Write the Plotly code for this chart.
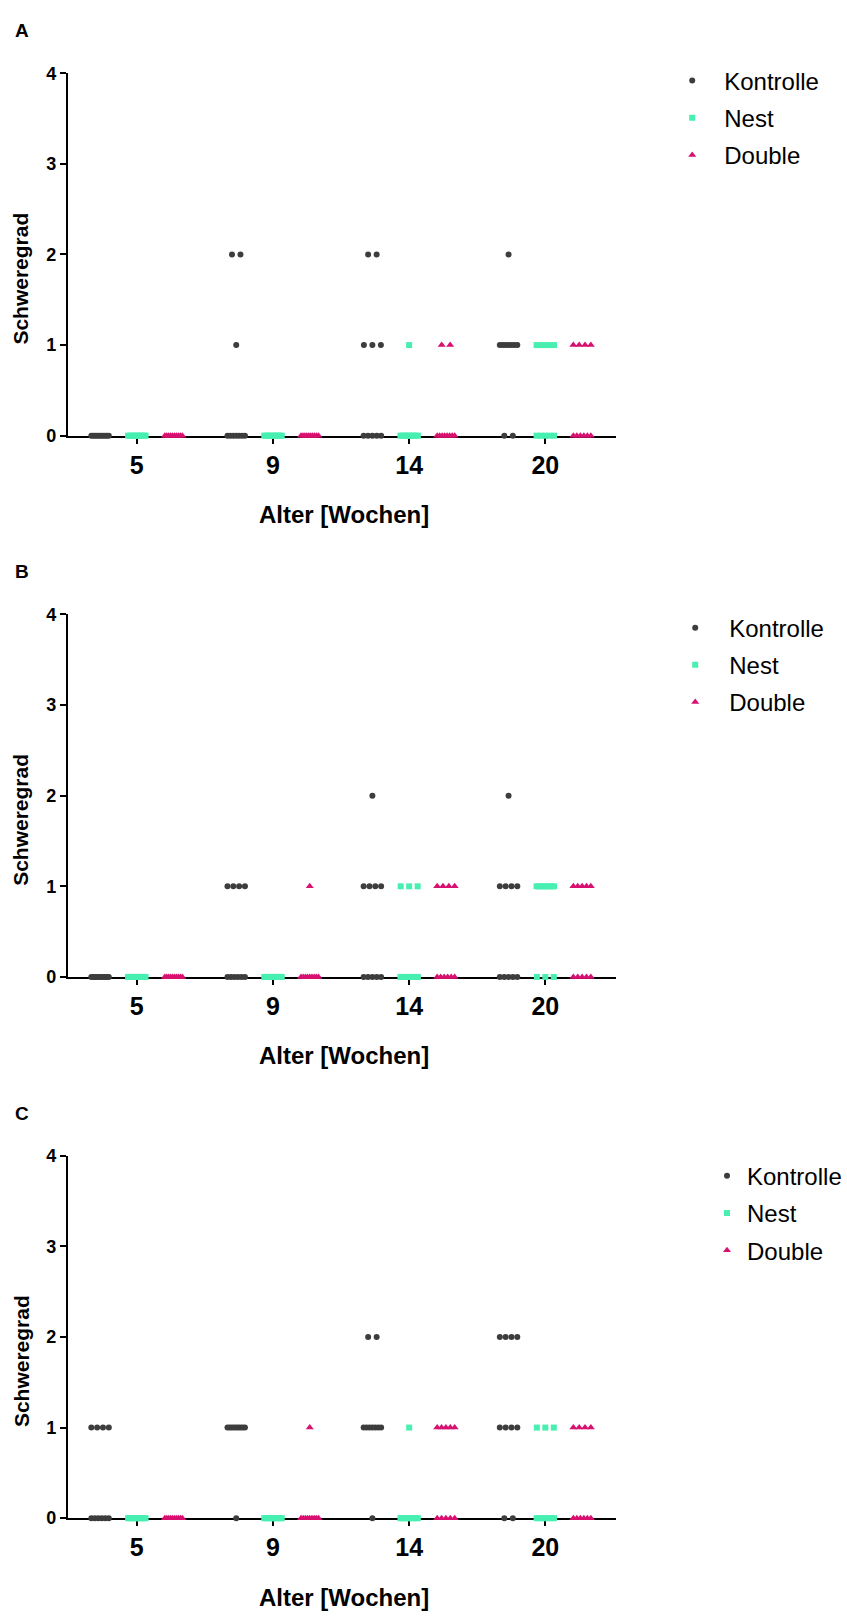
import plotly.graph_objects as go

# Age groups (weeks) on the x axis
ages = ["5", "9", "14", "20"]
grade_ticks = [0, 1, 2, 3, 4]
groups = ["Kontrolle", "Nest", "Double"]

# Number of animals per severity grade [grade 0, grade 1, grade 2] at each age
a_kontrolle = [[10, 0, 0], [7, 1, 2], [5, 3, 2], [2, 7, 1]]
a_nest = [[10, 0, 0], [10, 0, 0], [9, 1, 0], [5, 5, 0]]
a_double = [[10, 0, 0], [10, 0, 0], [8, 2, 0], [6, 4, 0]]

b_kontrolle = [[10, 0, 0], [6, 4, 0], [5, 4, 1], [5, 4, 1]]
b_nest = [[10, 0, 0], [10, 0, 0], [7, 3, 0], [3, 7, 0]]
b_double = [[10, 0, 0], [9, 1, 0], [6, 4, 0], [5, 5, 0]]

c_kontrolle = [[6, 4, 0], [1, 9, 0], [1, 7, 2], [2, 4, 4]]
c_nest = [[10, 0, 0], [10, 0, 0], [9, 1, 0], [7, 3, 0]]
c_double = [[10, 0, 0], [9, 1, 0], [5, 5, 0], [6, 4, 0]]

panels = [
    ("A", [a_kontrolle, a_nest, a_double]),
    ("B", [b_kontrolle, b_nest, b_double]),
    ("C", [c_kontrolle, c_nest, c_double]),
]

# ---- styling / geometry (pixels) ----
W, H = 847, 1623
PLOT_L, PLOT_R = 68, 617
PANEL_TOPS = [64, 612, 1160]
PANEL_H = 367
X_RANGE = [-0.506, 3.521]
PX_PER_UNIT = (PLOT_R - PLOT_L) / (X_RANGE[1] - X_RANGE[0])
GROUP_SHIFT = [-0.27, 0.0, 0.27]
# legend box left edge, top offset from panel top, and symbol column width per panel
LEGEND_X = [661, 662, 708]
LEGEND_DY = [-15, -9, -2]
LEGEND_ITEMWIDTH = [54, 58, 30]

styles = {
    "Kontrolle": dict(symbol="circle", color="#3d3d3d", size=6),
    "Nest": dict(symbol="square", color="#47efb0", size=6),
    "Double": dict(symbol="triangle-up", color="#d8106f", size=7),
}

FONT = "Liberation Sans"


def spread(n):
    """Horizontal offsets (axis units) for n equal values laid side by side."""
    if n <= 1:
        return [0.0] * n
    step_px = min(8.5, 17.5 / (n - 1))
    step = step_px / PX_PER_UNIT
    return [(j - (n - 1) / 2) * step for j in range(n)]


def px_x(px):
    return px / W


def px_y(py):
    return 1 - py / H


fig = go.Figure()

for p, (label, series) in enumerate(panels):
    xa = "x" if p == 0 else f"x{p + 1}"
    ya = "y" if p == 0 else f"y{p + 1}"
    legend_name = "legend" if p == 0 else f"legend{p + 1}"
    for g, (name, counts) in enumerate(zip(groups, series)):
        xs, ys = [], []
        for a, per_grade in enumerate(counts):
            for grade, n in enumerate(per_grade):
                for off in spread(n):
                    xs.append(a + GROUP_SHIFT[g] + off)
                    ys.append(grade)
        st = styles[name]
        fig.add_trace(go.Scatter(
            x=xs, y=ys, mode="markers", name=name,
            xaxis=xa, yaxis=ya, cliponaxis=False,
            legend=legend_name, legendgroup=f"{label}-{name}",
            marker=dict(symbol=st["symbol"], color=st["color"], size=st["size"],
                        line=dict(width=0)),
            hoverinfo="skip",
        ))

layout = dict(
    width=W, height=H, autosize=False,
    margin=dict(l=0, r=0, t=0, b=0),
    paper_bgcolor="white", plot_bgcolor="white",
    font=dict(family=FONT, color="black"),
    annotations=[],
)

for p, (label, _) in enumerate(panels):
    top = PANEL_TOPS[p]
    bottom = top + PANEL_H
    sfx = "" if p == 0 else str(p + 1)
    layout[f"xaxis{sfx}"] = dict(
        domain=[px_x(PLOT_L), px_x(PLOT_R)],
        range=X_RANGE, anchor=f"y{sfx}",
        tickvals=list(range(len(ages))), ticktext=ages,
        showline=True, linecolor="black", linewidth=2,
        ticks="outside", ticklen=6, tickwidth=2, tickcolor="black",
        showgrid=False, zeroline=False, layer="below traces",
        tickfont=dict(family=FONT, size=25, color="black", weight="bold"),
    )
    layout[f"yaxis{sfx}"] = dict(
        domain=[px_y(bottom), px_y(top)],
        range=[0, 4], anchor=f"x{sfx}",
        tickvals=grade_ticks,
        showline=True, linecolor="black", linewidth=2,
        ticks="outside", ticklen=6, tickwidth=2, tickcolor="black",
        showgrid=False, zeroline=False, layer="below traces",
        tickfont=dict(family=FONT, size=18, color="black", weight="bold"),
    )
    legend_key = "legend" if p == 0 else f"legend{p + 1}"
    layout[legend_key] = dict(
        x=px_x(LEGEND_X[p]), y=px_y(top + LEGEND_DY[p]),
        xanchor="left", yanchor="top",
        bgcolor="rgba(0,0,0,0)", traceorder="grouped", tracegroupgap=3,
        font=dict(family=FONT, size=24, color="black"),
        itemwidth=LEGEND_ITEMWIDTH[p],
    )
    layout["annotations"] += [
        dict(text=f"<b>{label}</b>", x=px_x(22), y=px_y(top - 43),
             xref="paper", yref="paper", showarrow=False,
             xanchor="center", yanchor="middle",
             font=dict(family=FONT, size=19, color="black")),
        dict(text="<b>Schweregrad</b>", x=px_x(21), y=px_y(top + 208),
             xref="paper", yref="paper", showarrow=False, textangle=-90,
             xanchor="center", yanchor="middle",
             font=dict(family=FONT, size=21, color="black")),
        dict(text="<b>Alter [Wochen]</b>", x=px_x(344), y=px_y(bottom + 80),
             xref="paper", yref="paper", showarrow=False,
             xanchor="center", yanchor="middle",
             font=dict(family=FONT, size=24, color="black")),
    ]

fig.update_layout(**layout)
fig.write_html("out.html")
